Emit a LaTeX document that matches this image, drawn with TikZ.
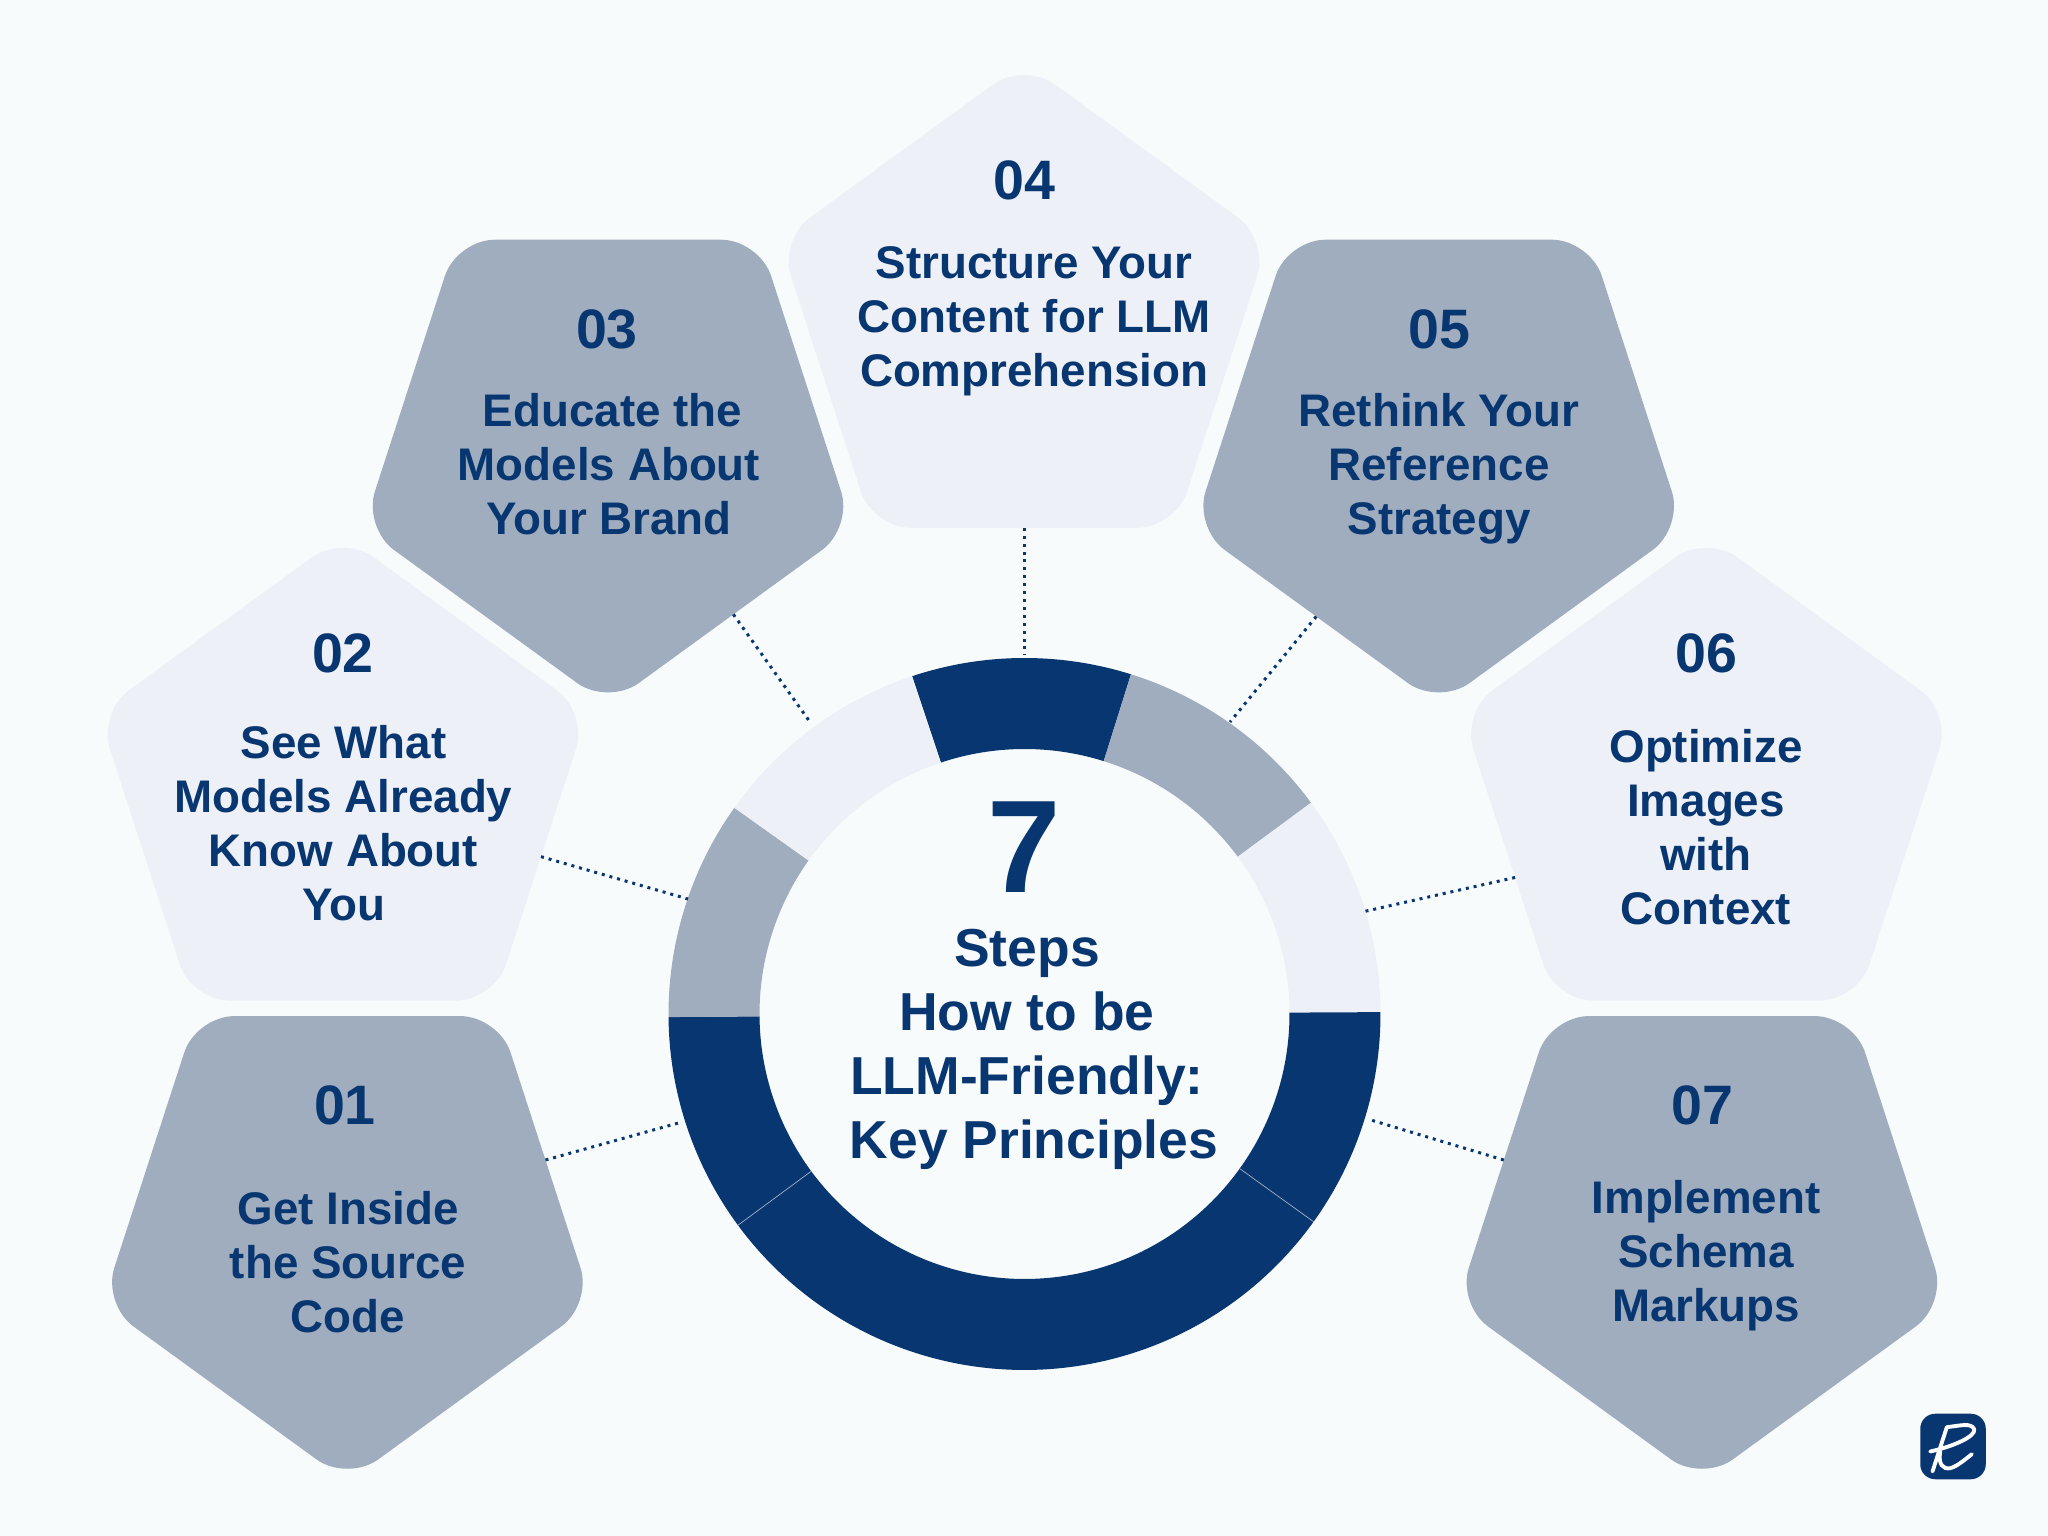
\documentclass[tikz,border=0pt]{standalone}
\usepackage{fontspec}
\setmainfont{Liberation Sans}
\usetikzlibrary{shapes.geometric}
\definecolor{stepnavy}{HTML}{083671}
\definecolor{stepgray}{HTML}{9FADBF}
\definecolor{steplight}{HTML}{EDF0F6}
\definecolor{stepback}{HTML}{F8FBFC}
\newcommand{\ringpart}[3]{\fill[#3] ([shift={(#1:356)}]c) arc[start angle=#1,end angle=#2,radius=356] -- ([shift={(#2:265)}]c) arc[start angle=#2,end angle=#1,radius=265] -- cycle;}

\begin{document}
\begin{tikzpicture}[x=0.01cm,y=0.01cm,pentup/.style={regular polygon,regular polygon sides=5,minimum size=5.146cm,inner sep=0pt,outer sep=0pt,rounded corners=0.38cm},pentdown/.style={pentup,shape border rotate=180},steptitle/.style={align=center,text=stepnavy,inner sep=0pt,font=\bfseries\fontsize{13}{15.4}\selectfont},stepnum/.style={text=stepnavy,inner sep=0pt,font=\bfseries\fontsize{15.8}{18}\selectfont},dotline/.style={stepnavy,line width=0.85pt,dash pattern=on 0.85pt off 1.4pt}]
\useasboundingbox (0,0) rectangle (2048,1536);
\fill[stepback] (0,0) rectangle (2048,1536);
% pentagons
\node[pentdown,fill=stepgray] (p01) at (347.4,311.6) {};
\node[pentup,fill=steplight] (p02) at (342.9,743.7) {};
\node[pentdown,fill=stepgray] (p03) at (608,1088) {};
\node[pentup,fill=steplight] (p04) at (1024,1216.5) {};
\node[pentdown,fill=stepgray] (p05) at (1438.7,1088) {};
\node[pentup,fill=steplight] (p06) at (1706.4,743.7) {};
\node[pentdown,fill=stepgray] (p07) at (1701.9,311.6) {};
% ring
\coordinate (c) at (1024.5,522);
\ringpart{72.6}{108.4}{stepnavy}
\ringpart{36.4}{72.6}{stepgray}
\ringpart{0.3}{36.4}{steplight}
\ringpart{-35.7}{0.3}{stepnavy}
\ringpart{-143.6}{-35.7}{stepnavy}
\ringpart{-179.5}{-143.6}{stepnavy}
\ringpart{144.6}{180.5}{stepgray}
\ringpart{108.4}{144.6}{steplight}
\draw[stepgray,line width=0.2pt] ([shift={(-35.7:356)}]c) -- ([shift={(-35.7:265)}]c);
\draw[stepgray,line width=0.2pt] ([shift={(-143.6:356)}]c) -- ([shift={(-143.6:265)}]c);
% connectors
\coordinate (r1) at (682,414);
\coordinate (r2) at (688,637);
\coordinate (r3) at (810,814);
\coordinate (r4) at (1024,881);
\coordinate (r5) at (1230,814);
\coordinate (r6) at (1362,624);
\coordinate (r7) at (1367.5,417);
\draw[dotline] (p01.18.7) -- (r1);
\draw[dotline] (p02.-18.3) -- (r2);
\draw[dotline] (p03.-53.5) -- (r3);
\draw[dotline] (p04.south) -- (r4);
\draw[dotline] (p05.-126) -- (r5);
\draw[dotline] (p06.204.4) -- (r6);
\draw[dotline] (p07.162.3) -- (r7);
% labels
\node[stepnum] (n01) at (345,431) {01};
\node[steptitle] (t01) at (348,274) {Get Inside\\the Source\\Code};
\node[stepnum] (n02) at (343,883) {02};
\node[steptitle] (t02) at (343.5,713) {See What\\Models Already\\Know About\\You};
\node[stepnum] (n03) at (607,1207) {03};
\node[steptitle] (t03) at (609,1072) {\hspace*{2pt}Educate the\\Models About\\Your Brand};
\node[stepnum] (n04) at (1024,1356) {04};
\node[steptitle] (t04) at (1034,1215) {Structure Your\\Content for LLM\\Comprehension};
\node[stepnum] (n05) at (1439,1207) {05};
\node[steptitle] (t05) at (1439,1067) {Rethink Your\\Reference\\Strategy};
\node[stepnum] (n06) at (1706,883) {06};
\node[steptitle] (t06) at (1706,709) {Optimize\\Images\\with\\Context};
\node[stepnum] (n07) at (1702,431) {07};
\node[steptitle] (t07) at (1706,280) {Implement\\Schema\\Markups};
% centre
\node[text=stepnavy,inner sep=0pt,font=\bfseries\fontsize{37.5}{37.5}\selectfont] (seven) at (1024,689) {7};
\node[align=center,text=stepnavy,inner sep=0pt,font=\bfseries\fontsize{15.2}{18.2}\selectfont] (centre) at (1027,487) {Steps\\How to be\\LLM-Friendly:\\\hspace*{4pt}Key Principles};
% logo
\node[fill=stepnavy,minimum size=0.655cm,inner sep=0pt,rounded corners=0.15cm] (logo) at (1953,89.5) {};
\draw[white,line width=1.1pt,line cap=round,line join=round,shift={(logo)}] (-20.5,-25) -- (-6.2,19.3) .. controls (8,21) and (18,24) .. (21.2,17.3) .. controls (23,10) and (0,0) .. (-22.8,-5);
\draw[white,line width=1.1pt,line cap=round,shift={(logo)}] (-12.8,-5) .. controls (-15,-18) and (-10,-23) .. (-2.8,-21.7) .. controls (4,-20) and (12,-13) .. (18.8,-7.7);
\end{tikzpicture}
\end{document}
